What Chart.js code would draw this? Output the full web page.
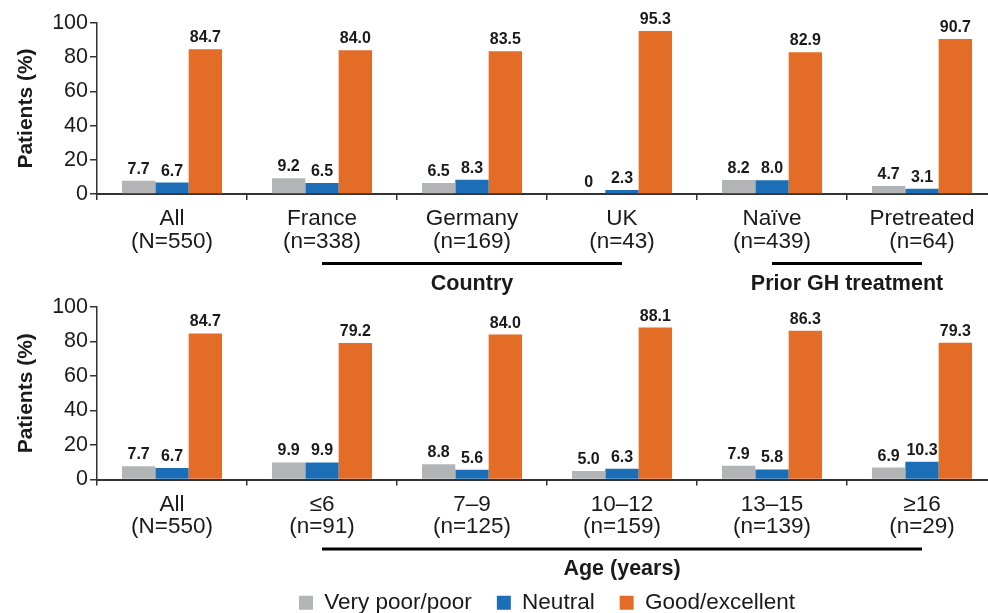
<!DOCTYPE html>
<html>
<head>
<meta charset="utf-8">
<title>Patients rating</title>
<script src="https://cdn.jsdelivr.net/npm/chart.js@4.4.1/dist/chart.umd.min.js"></script>
<style>
  html, body { margin: 0; padding: 0; background: #fff; overflow: hidden; }
  #wrap { position: relative; width: 988px; height: 613px; overflow: hidden; }
  canvas { position: absolute; left: 0; }
  #topChart { top: 0; }
  #bottomChart { top: 285px; }
</style>
</head>
<body>
<div id="wrap">
  <canvas id="topChart" width="1000" height="300"></canvas>
  <canvas id="bottomChart" width="1000" height="339"></canvas>
</div>
<script>
// top panel: overall, country, prior GH treatment
const topCategories = [
  ['All', '(N=550)'],
  ['France', '(n=338)'],
  ['Germany', '(n=169)'],
  ['UK', '(n=43)'],
  ['Naïve', '(n=439)'],
  ['Pretreated', '(n=64)'],
];
const topPoor = [7.7, 9.2, 6.5, 0, 8.2, 4.7];
const topNeutral = [6.7, 6.5, 8.3, 2.3, 8.0, 3.1];
const topGood = [84.7, 84.0, 83.5, 95.3, 82.9, 90.7];
const topGroups = [
  { label: 'Country', from: 1, to: 3 },
  { label: 'Prior GH treatment', from: 4, to: 5 },
];

// bottom panel: age groups
const bottomCategories = [
  ['All', '(N=550)'],
  ['≤6', '(n=91)'],
  ['7–9', '(n=125)'],
  ['10–12', '(n=159)'],
  ['13–15', '(n=139)'],
  ['≥16', '(n=29)'],
];
const bottomPoor = [7.7, 9.9, 8.8, 5.0, 7.9, 6.9];
const bottomNeutral = [6.7, 9.9, 5.6, 6.3, 5.8, 10.3];
const bottomGood = [84.7, 79.2, 84.0, 88.1, 86.3, 79.3];
const bottomGroups = [
  { label: 'Age (years)', from: 1, to: 5 },
];

const seriesNames = ['Very poor/poor', 'Neutral', 'Good/excellent'];
const seriesColors = ['#b2b4b6', '#1c6fb7', '#e36d27'];
const yTicks = [0, 20, 40, 60, 80, 100];

const FONT = "'Liberation Sans', Arial, Helvetica, sans-serif";
const INK = '#1a1a1a';

const valueLabels = {
  id: 'valueLabels',
  afterDatasetsDraw(chart) {
    const ctx = chart.ctx;
    ctx.save();
    ctx.font = 'bold 16px ' + FONT;
    ctx.fillStyle = INK;
    ctx.textAlign = 'center';
    ctx.textBaseline = 'alphabetic';
    chart.data.datasets.forEach((ds, i) => {
      chart.getDatasetMeta(i).data.forEach((bar, j) => {
        const v = ds.data[j];
        const txt = v === 0 ? '0' : v.toFixed(1);
        ctx.fillText(txt, bar.x, bar.y - 7);
      });
    });
    ctx.restore();
  }
};

const groupBrackets = {
  id: 'groupBrackets',
  afterDraw(chart, args, opts) {
    const groups = opts.groups || [];
    const x = chart.scales.x;
    const base = chart.chartArea.bottom;
    const ctx = chart.ctx;
    ctx.save();
    groups.forEach(g => {
      const x1 = x.getPixelForValue(g.from);
      const x2 = x.getPixelForValue(g.to);
      ctx.strokeStyle = '#000';
      ctx.lineWidth = 3;
      ctx.beginPath();
      ctx.moveTo(x1, base + 69.5);
      ctx.lineTo(x2, base + 69.5);
      ctx.stroke();
      ctx.font = 'bold 21.5px ' + FONT;
      ctx.fillStyle = INK;
      ctx.textAlign = 'center';
      ctx.textBaseline = 'middle';
      ctx.fillText(g.label, (x1 + x2) / 2, base + 90);
    });
    ctx.restore();
  }
};

function makeChart(canvasId, cats, poor, neutral, good, groups, showLegend, padTop) {
  const ctx = document.getElementById(canvasId).getContext('2d');
  const values = [poor, neutral, good];
  return new Chart(ctx, {
    type: 'bar',
    data: {
      labels: cats,
      datasets: values.map((d, i) => ({
        label: seriesNames[i],
        data: d,
        backgroundColor: seriesColors[i],
        borderWidth: 0,
        categoryPercentage: 0.667,
        barPercentage: 1.0,
      })),
    },
    options: {
      responsive: false,
      animation: false,
      devicePixelRatio: 1,
      layout: { padding: { top: padTop, right: 3, left: 0, bottom: 0 } },
      scales: {
        x: {
          afterFit: (scale) => { scale.height = showLegend ? 87 : 106; },
          grid: { drawOnChartArea: false, drawTicks: true, tickLength: 6, color: '#333', lineWidth: 1.5 },
          border: { color: '#333', width: 2 },
          ticks: {
            color: INK,
            padding: 8,
            maxRotation: 0,
            autoSkip: false,
            font: { family: FONT, size: 22.5, lineHeight: 1.0 },
          },
        },
        y: {
          min: 0,
          max: 100,
          afterFit: (scale) => { scale.width = 97; },
          afterBuildTicks: (scale) => { scale.ticks = yTicks.map(v => ({ value: v })); },
          grid: { drawOnChartArea: false, drawTicks: true, tickLength: 7, color: '#333', lineWidth: 1.5 },
          border: { color: '#333', width: 1.5 },
          ticks: {
            color: INK,
            padding: 2,
            font: { family: FONT, size: 21.5 },
          },
          title: {
            display: true,
            text: 'Patients (%)',
            color: INK,
            padding: { top: 14, bottom: 0 },
            font: { family: FONT, size: 21, weight: 'bold' },
          },
        },
      },
      plugins: {
        legend: {
          display: showLegend,
          position: 'bottom',
          fullSize: false,
          labels: {
            color: INK,
            boxWidth: 14,
            boxHeight: 14,
            padding: 25,
            font: { family: FONT, size: 22.5 },
          },
        },
        tooltip: { enabled: false },
        groupBrackets: { groups: groups },
      },
    },
    plugins: [valueLabels, groupBrackets],
  });
}

makeChart('topChart', topCategories, topPoor, topNeutral, topGood, topGroups, false, 23);
makeChart('bottomChart', bottomCategories, bottomPoor, bottomNeutral, bottomGood, bottomGroups, true, 22);
</script>
</body>
</html>
